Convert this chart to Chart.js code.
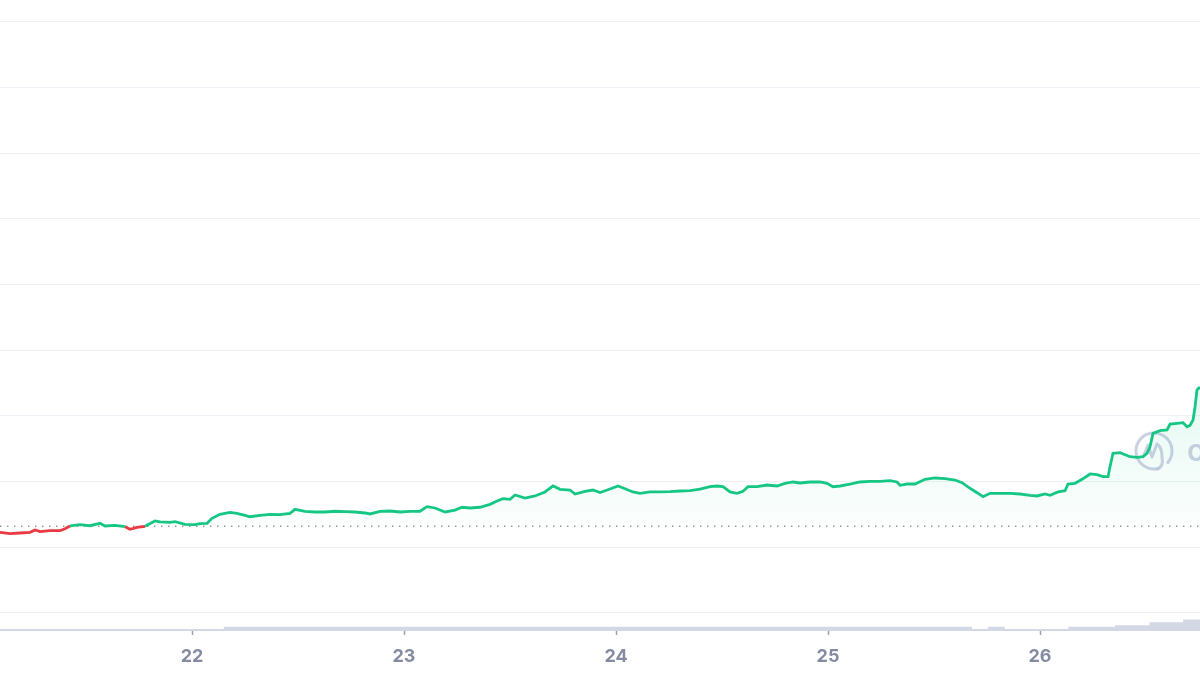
<!DOCTYPE html>
<html>
<head>
<meta charset="utf-8">
<script src="https://cdn.jsdelivr.net/npm/chart.js@4.4.1/dist/chart.umd.min.js"></script>
<style>
  html, body { margin: 0; padding: 0; background: #fff; }
  #box { width: 1200px; height: 675px; }
</style>
</head>
<body>
<div id="box"><canvas id="chart-price" width="1200" height="675"></canvas></div>
<script>
// hours since day 21 00:00
const priceHours = [
  2.26, 3.40, 4.53, 5.66, 6.23, 6.79, 7.92, 9.06, 9.62, 10.19, 11.32, 12.45, 13.58, 14.15,
  15.28, 16.42, 16.98, 17.77, 18.68, 19.81, 20.38, 21.51, 22.08, 23.21, 24.34, 24.91,
  25.70, 26.26, 27.17, 28.30, 29.09, 30.00, 30.57, 31.70, 32.83, 33.96, 35.09, 35.66,
  36.79, 37.92, 39.06, 40.19, 41.32, 42.45, 43.58, 44.15, 45.28, 46.42, 47.55,
  48.68, 49.81, 50.60, 51.51, 52.64, 53.77, 54.57, 55.47, 56.60, 57.74, 58.53, 59.21,
  60.00, 60.57, 61.70, 62.83, 63.96, 64.87, 65.66, 66.79, 67.36, 68.49, 69.40, 70.19,
  71.32, 72.23, 73.02, 73.92, 74.72, 75.85, 76.98, 78.11, 79.25, 80.38, 81.51, 82.64,
  83.43, 84.11, 84.91, 85.70, 86.38, 86.94, 87.96, 89.09, 90.23, 91.13, 92.04, 92.83,
  93.96, 95.09, 95.89, 96.57, 97.36, 98.49, 99.62, 100.75, 101.89, 103.02, 103.81, 104.15,
  104.94, 105.85, 106.98, 108.11, 109.25, 110.38, 111.17, 112.08, 112.87, 113.55, 114.34,
  115.47, 116.60, 117.74, 118.87, 119.66, 120.57, 121.13, 122.04, 122.83, 123.17, 123.96,
  124.76, 125.66, 126.45, 127.13, 127.70, 127.92, 128.26, 129.06, 130.19, 130.98, 131.66,
  132.11, 132.45, 132.79, 133.58, 134.38, 134.72, 135.51, 136.19, 136.64, 136.98, 137.32,
  137.55, 137.77, 138.11
];
const priceValues = [
  12.29, 12.08, 12.18, 12.29, 12.64, 12.38, 12.53, 12.53, 12.84, 13.25, 13.45, 13.29, 13.66, 13.25,
  13.35, 13.14, 12.75, 13.05, 13.20, 14.01, 13.86, 13.81, 13.90, 13.51, 13.45, 13.60,
  13.66, 14.42, 15.03, 15.33, 15.18, 14.88, 14.66, 14.88, 15.03, 14.97, 15.18, 15.79,
  15.49, 15.38, 15.38, 15.49, 15.43, 15.38, 15.23, 15.08, 15.49, 15.53, 15.38,
  15.49, 15.49, 16.19, 15.99, 15.38, 15.68, 16.10, 15.99, 16.10, 16.55, 17.06, 17.41,
  17.31, 17.97, 17.51, 17.82, 18.43, 19.34, 18.84, 18.73, 18.12, 18.53, 18.73, 18.35,
  18.88, 19.34, 18.93, 18.43, 18.23, 18.43, 18.43, 18.47, 18.58, 18.62, 18.88, 19.23,
  19.34, 19.23, 18.43, 18.23, 18.53, 19.23, 19.23, 19.49, 19.34, 19.75, 19.95, 19.80,
  19.95, 19.95, 19.75, 19.23, 19.34, 19.64, 19.95, 20.05, 20.05, 20.15, 19.95, 19.45,
  19.64, 19.64, 20.36, 20.56, 20.45, 20.25, 19.84, 18.99, 18.32, 17.71, 18.23,
  18.23, 18.23, 18.12, 17.92, 17.82, 18.12, 17.92, 18.43, 18.62, 19.64, 19.75,
  20.36, 21.17, 21.06, 20.76, 20.76, 22.28, 24.32, 24.41, 23.80, 23.71, 23.80,
  24.32, 25.32, 27.36, 27.76, 27.87, 28.78, 28.89, 28.98, 28.37, 28.58, 29.39,
  31.41, 33.96, 34.41
];
const openPrice = 13.22; // dotted reference line

// volume steps (hours since day 21 00:00)
const volumeHours = [2.26, 27.6, 112.3, 114.1, 116.0, 123.2, 128.5, 132.4, 136.2, 138.11];
const volumeValues = [0.5, 3, 1, 3, 1, 3, 4.5, 7.5, 10, 10];

const dayTicks = [22, 23, 24, 25, 26];

const GREEN = "#16c784";
const RED = "#ea3943";

const hourMin = 2.264;
const hourMax = 138.11;

const pricePoints = priceHours.map((h, i) => ({ x: h, y: priceValues[i] }));
const volumePoints = volumeHours.map((h, i) => ({ x: h, y: volumeValues[i] }));

function areaGradient(context) {
  const { chart } = context;
  const { ctx, chartArea, scales } = chart;
  if (!chartArea) return "rgba(22,199,132,0.05)";
  const top = scales.y.getPixelForValue(Math.max(...priceValues));
  const bottom = scales.y.getPixelForValue(openPrice);
  const g = ctx.createLinearGradient(0, top, 0, bottom);
  g.addColorStop(0, "rgba(22,199,132,0.11)");
  g.addColorStop(1, "rgba(22,199,132,0.015)");
  return g;
}

// faint watermark drawn under the lines
const watermark = {
  id: "watermark",
  beforeDatasetsDraw(chart) {
    const { ctx, chartArea } = chart;
    const cx = chartArea.right - 46;
    const cy = chartArea.top + 451;
    ctx.save();
    ctx.strokeStyle = "rgba(196,200,224,0.85)";
    ctx.fillStyle = "rgba(196,200,224,0.85)";
    ctx.lineWidth = 3;
    ctx.lineCap = "round";
    ctx.lineJoin = "round";
    ctx.beginPath();
    ctx.arc(cx, cy, 18, Math.PI * 0.42, Math.PI * 2.22);
    ctx.stroke();
    ctx.beginPath();
    ctx.moveTo(cx - 11, cy + 6);
    ctx.lineTo(cx - 6, cy - 6);
    ctx.lineTo(cx - 2, cy + 6);
    ctx.lineTo(cx + 3, cy - 7);
    ctx.quadraticCurveTo(cx + 8, cy - 4, cx + 8, cy + 6);
    ctx.quadraticCurveTo(cx + 10, cy + 16, cx + 3, cy + 18);
    ctx.stroke();
    ctx.font = "600 30px Inter, sans-serif";
    ctx.textBaseline = "middle";
    ctx.fillText("coinmarketcap", chartArea.right - 13, cy + 1);
    ctx.restore();
  },
};

const canvas = document.getElementById("chart-price");
new Chart(canvas, {
  type: "line",
  data: {
    datasets: [
      {
        label: "Price",
        data: pricePoints,
        yAxisID: "y",
        borderWidth: 2.8,
        pointRadius: 0,
        tension: 0,
        borderColor: GREEN,
        segment: {
          borderColor: (c) =>
            (c.p0.parsed.y + c.p1.parsed.y) / 2 < openPrice ? RED : GREEN,
        },
        fill: { target: { value: openPrice } },
        backgroundColor: areaGradient,
      },
      {
        label: "Open",
        data: [{ x: hourMin, y: openPrice }, { x: hourMax, y: openPrice }],
        yAxisID: "y",
        borderColor: "#8f95a5",
        borderWidth: 1.4,
        borderDash: [1.4, 5.6],
        pointRadius: 0,
        fill: false,
      },
      {
        label: "Volume",
        data: volumePoints,
        yAxisID: "yv",
        stepped: "before",
        borderWidth: 0,
        pointRadius: 0,
        backgroundColor: "#d3d8e4",
        fill: "origin",
      },
    ],
  },
  options: {
    responsive: false,
    animation: false,
    layout: { padding: 0 },
    plugins: { legend: { display: false }, tooltip: { enabled: false } },
    scales: {
      x: {
        type: "linear",
        min: hourMin,
        max: hourMax,
        afterFit: (scale) => {
          scale.height = 45;
        },
        afterBuildTicks: (scale) => {
          scale.ticks = dayTicks.map((d) => ({ value: (d - 21) * 24 }));
        },
        ticks: {
          autoSkip: false,
          maxRotation: 0,
          padding: 11,
          color: "#858ca2",
          font: { family: "Inter, sans-serif", size: 18, weight: "bold" },
          callback: (v, i) => String(dayTicks[i]),
        },
        grid: {
          drawOnChartArea: false,
          drawTicks: true,
          tickLength: 5,
          tickWidth: 1.5,
          color: "#9aa1b2",
        },
        border: { display: true, color: "#d3d8e4", width: 2 },
      },
      y: {
        min: -2.59,
        max: 93.35,
        ticks: { display: false, stepSize: 10, includeBounds: false },
        grid: { color: "#eef1f5", lineWidth: 1, drawTicks: false },
        border: { display: false },
      },
      yv: {
        display: false,
        min: 0,
        max: 600,
      },
    },
  },
  plugins: [watermark],
});
</script>
</body>
</html>
